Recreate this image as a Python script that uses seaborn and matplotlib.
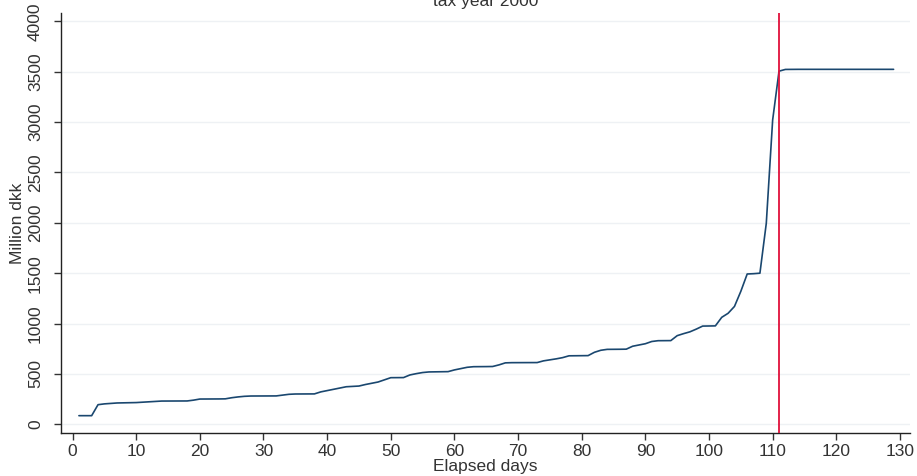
import numpy as np
import pandas as pd
import matplotlib
matplotlib.use("Agg")
import matplotlib.pyplot as plt
import seaborn as sns

# Cumulative amount (million DKK) by elapsed day
days = list(range(1, 130))
amounts = [
    86, 86, 86, 195, 203, 208, 212, 213, 214, 216,
    220, 224, 228, 231, 231, 231, 232, 232, 240, 251,
    251, 252, 252, 253, 264, 272, 278, 281, 281, 281,
    281, 282, 290, 298, 301, 301, 301, 302, 322, 335,
    347, 362, 373, 376, 380, 395, 408, 420, 442, 463,
    463, 464, 490, 503, 514, 520, 521, 522, 523, 540,
    553, 566, 572, 572, 573, 574, 590, 610, 612, 612,
    612, 612, 613, 630, 640, 650, 662, 680, 681, 681,
    682, 715, 735, 744, 744, 745, 746, 775, 787, 800,
    822, 830, 830, 831, 880, 900, 918, 945, 975, 976,
    977, 1062, 1102, 1170, 1320, 1492, 1495, 1500, 1995, 3020,
    3505, 3522, 3523, 3523, 3523, 3523, 3523, 3523, 3523, 3523,
    3523, 3523, 3523, 3523, 3523, 3523, 3523, 3523, 3523,
]
deadline_day = 111

x_ticks = list(range(0, 131, 10))
y_ticks = list(range(0, 4001, 500))

df = pd.DataFrame({"Elapsed days": days, "Million dkk": amounts})

sns.set_style("white")
plt.rcParams["font.family"] = ["Liberation Sans", "DejaVu Sans"]

fig = plt.figure(figsize=(9.17, 4.76), dpi=100)
ax = fig.add_axes([0.0665, 0.0897, 0.926, 0.8836])

ax.set_xlim(-1.82, 131.6)
ax.set_ylim(-89, 4085)

for yv in y_ticks:
    ax.axhline(yv, color="#eef1f4", lw=1.0, zorder=0)

sns.lineplot(data=df, x="Elapsed days", y="Million dkk", ax=ax,
             color="#1a476f", lw=1.2, zorder=3)
ax.axvline(deadline_day, color="#e0103a", lw=1.3, zorder=4)

ax.set_xticks(x_ticks)
ax.set_yticks(y_ticks)
ax.tick_params(axis="both", direction="out", length=5, width=1, color="#333333",
               labelsize=12.5, labelcolor="#333333", left=True, bottom=True)
ax.tick_params(axis="x", pad=2.5)
ax.tick_params(axis="y", pad=8)
for lab in ax.get_yticklabels():
    lab.set_rotation(90)
    lab.set_va("center")

for side in ("top", "right"):
    ax.spines[side].set_visible(False)
for side in ("left", "bottom"):
    ax.spines[side].set_color("#222222")
    ax.spines[side].set_linewidth(1.0)

ax.set_xlabel("Elapsed days", fontsize=12.5, color="#333333", labelpad=0)
ax.set_ylabel("Million dkk", fontsize=12.5, color="#333333", labelpad=2)

fig.text(0.5295, 1 - 6 / 476, "tax year 2000", ha="center", va="baseline",
         fontsize=12.5, color="#333333")

fig.savefig("out.png", dpi=100, facecolor="white")
